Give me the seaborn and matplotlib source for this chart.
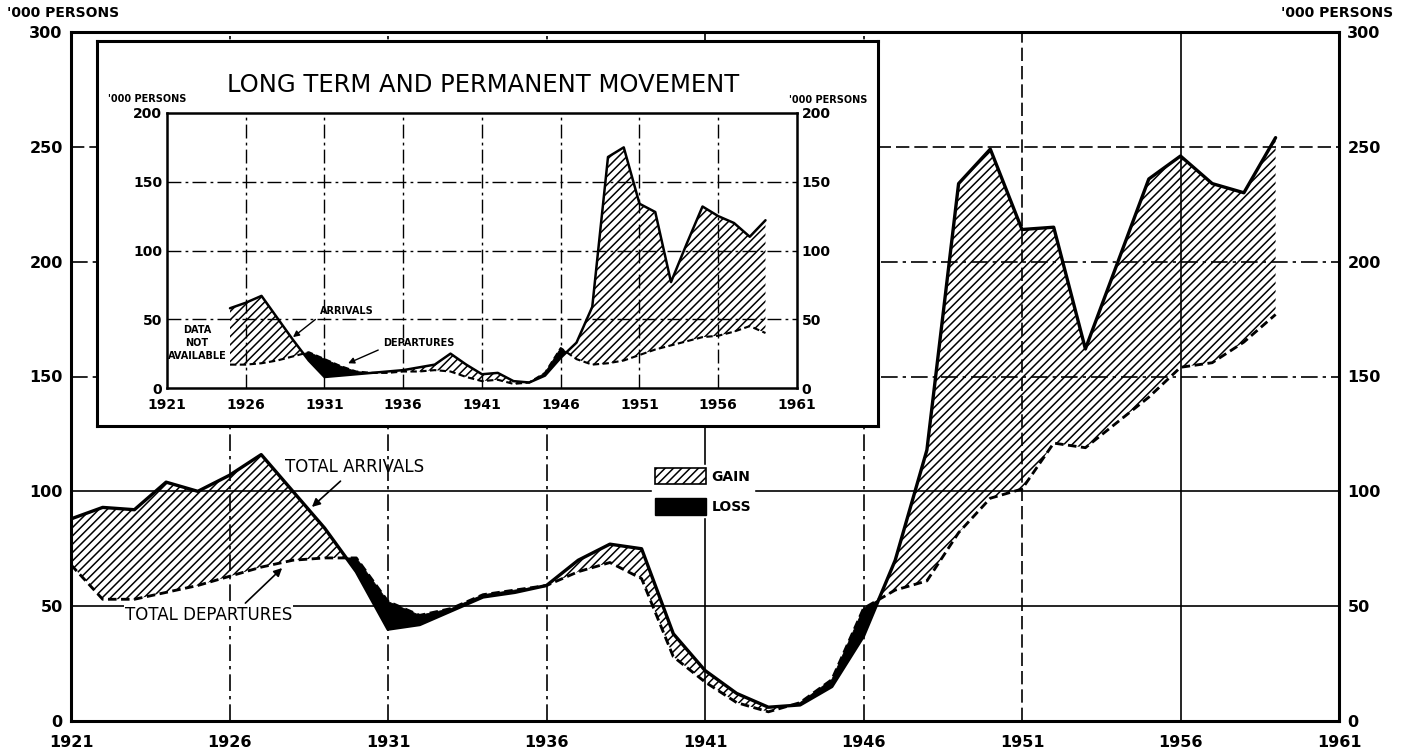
import numpy as np
import matplotlib
matplotlib.use("Agg")
import matplotlib.pyplot as plt
from matplotlib.patches import Patch
import seaborn as sns

# --- data ('000 persons) ---
years = list(range(1921, 1960))
total_arrivals = [88, 93, 92, 104, 100, 107, 116, 100, 84, 65,
                  40, 42, 48, 54, 56, 59, 70, 77, 75, 38,
                  22, 12, 6, 7, 15, 37, 70, 118, 234, 249,
                  214, 215, 162, 199, 236, 246, 234, 230, 254]
total_departures = [68, 53, 53, 56, 59, 63, 67, 70, 71, 71,
                    52, 46, 49, 55, 57, 59, 65, 69, 62, 28,
                    17, 8, 4, 8, 18, 49, 57, 61, 82, 97,
                    101, 121, 119, 130, 141, 154, 156, 165, 177]

lt_years = list(range(1925, 1960))
lt_arrivals = [58, 62, 67, 51, 35, 20, 8, 9, 10, 11,
               12, 13, 15, 17, 25, 17, 10, 11, 5, 4,
               9, 22, 33, 59, 168, 175, 134, 128, 77, 105,
               132, 125, 120, 110, 122]
lt_departures = [17, 17, 18, 20, 23, 26, 21, 16, 12, 11,
                 11, 12, 12, 13, 12, 8, 5, 6, 3, 4,
                 11, 29, 21, 17, 18, 20, 24, 28, 31, 34,
                 37, 38, 41, 45, 40]

year_ticks = [1921, 1926, 1931, 1936, 1941, 1946, 1951, 1956, 1961]
main_yticks = [0, 50, 100, 150, 200, 250, 300]
inset_yticks = [0, 50, 100, 150, 200]

sns.set_theme(style="white")
plt.rcParams['font.family'] = ['DejaVu Sans']
plt.rcParams['text.color'] = 'black'
plt.rcParams['hatch.linewidth'] = 1.1
plt.rcParams['hatch.color'] = 'black'

W, H = 1420, 756
fig = plt.figure(figsize=(W / 100, H / 100), dpi=100)
fig.patch.set_facecolor('white')


def box(l, t, r, b):
    return [l / W, 1 - b / H, (r - l) / W, (b - t) / H]


DASHDOT = (0, (10, 3, 2, 3))
DASHED = (0, (8, 3))
HATCH = '////'


def draw_movement(a, x, arr, dep, lw):
    x = np.asarray(x, float)
    arr = np.asarray(arr, float)
    dep = np.asarray(dep, float)
    a.fill_between(x, dep, arr, where=arr >= dep, interpolate=True,
                   facecolor='none', edgecolor='black', hatch=HATCH, linewidth=0, zorder=1)
    a.fill_between(x, dep, arr, where=arr < dep, interpolate=True,
                   facecolor='black', edgecolor='black', linewidth=0.6, zorder=1)
    sns.lineplot(x=x, y=dep, ax=a, color='black', lw=lw * 0.85,
                 linestyle=(0, (3, 1.6)), zorder=2)
    sns.lineplot(x=x, y=arr, ax=a, color='black', lw=lw, zorder=3)


def style_axes(a, yt, fs, spine_lw, xpad, ypad):
    a.set_xlim(1921, 1961)
    a.set_ylim(yt[0], yt[-1])
    a.set_xticks(year_ticks)
    a.set_yticks(yt)
    a.set(xlabel='', ylabel='')
    a.tick_params(axis='both', length=0, labelsize=fs, labelcolor='black')
    a.tick_params(axis='x', pad=xpad)
    a.tick_params(axis='y', pad=ypad, labelleft=True, labelright=True)
    for t in a.xaxis.get_major_ticks() + a.yaxis.get_major_ticks():
        t.label1.set_fontweight('bold')
        t.label2.set_fontweight('bold')
    for s in a.spines.values():
        s.set_visible(True)
        s.set_color('black')
        s.set_linewidth(spine_lw)


# --- main chart ---
ax = fig.add_axes(box(71, 32, 1339, 721))
ax.set_facecolor('white')
h_styles = {50: '-', 100: '-', 150: DASHDOT, 200: DASHDOT, 250: DASHED}
v_styles = {1926: DASHDOT, 1931: DASHDOT, 1936: DASHDOT, 1941: '-',
            1946: DASHDOT, 1951: DASHED, 1956: '-'}
for v, s in h_styles.items():
    ax.axhline(v, color='black', lw=1.2, ls=s, zorder=0.5)
for v, s in v_styles.items():
    ax.axvline(v, color='black', lw=1.2, ls=s, zorder=0.5)

draw_movement(ax, years, total_arrivals, total_departures, 2.4)
style_axes(ax, main_yticks, 11.5, 2.2, 10, 6)

ax.annotate('TOTAL ARRIVALS', xy=(1928.6, 93.2), xytext=(1927.75, 110.6),
            ha='left', va='center', fontsize=12, color='black',
            arrowprops=dict(arrowstyle='-|>', color='black', lw=1.2,
                            mutation_scale=12, relpos=(0.44, 0.0), shrinkA=2, shrinkB=0))
ax.annotate('TOTAL DEPARTURES', xy=(1927.66, 66.6), xytext=(1922.7, 46),
            ha='left', va='center', fontsize=12, color='black',
            bbox=dict(facecolor='white', edgecolor='none', pad=1),
            arrowprops=dict(arrowstyle='-|>', color='black', lw=1.2,
                            mutation_scale=12, relpos=(0.7, 1.0), shrinkA=2, shrinkB=0))

legend_handles = [Patch(facecolor='white', edgecolor='black', hatch=HATCH, lw=1.2, label='GAIN'),
                  Patch(facecolor='black', edgecolor='black', label='LOSS')]
leg = ax.legend(handles=legend_handles, loc='upper left', bbox_to_anchor=(0.4527, 0.3817),
                frameon=True, framealpha=1, edgecolor='white', fancybox=False,
                prop={'weight': 'bold', 'size': 10}, handlelength=3.7, handleheight=1.45,
                labelspacing=1.0, handletextpad=0.4, borderpad=0.2)
leg.set_zorder(5)

fig.text(7 / W, 1 - 13 / H, "'000 PERSONS", fontsize=10, fontweight='bold', va='center', ha='left')
fig.text(1393 / W, 1 - 13 / H, "'000 PERSONS", fontsize=10, fontweight='bold', va='center', ha='right')

# --- inset: long term and permanent movement ---
frame = fig.add_axes(box(97, 41, 878, 426))
frame.set_facecolor('white')
frame.set_xticks([])
frame.set_yticks([])
for s in frame.spines.values():
    s.set_visible(True)
    s.set_color('black')
    s.set_linewidth(2.2)
frame.set_zorder(2)

ins = fig.add_axes(box(167, 113, 797, 388))
ins.set_facecolor('white')
ins.set_zorder(3)
for v in inset_yticks[1:-1]:
    ins.axhline(v, color='black', lw=1.0, ls=DASHDOT, zorder=0.5)
for v in year_ticks[1:-1]:
    ins.axvline(v, color='black', lw=1.0, ls=DASHDOT, zorder=0.5)

draw_movement(ins, lt_years, lt_arrivals, lt_departures, 1.8)
style_axes(ins, inset_yticks, 10, 1.8, 7, 3.5)

ins.text(1922.9, 32.7, 'DATA\nNOT\nAVAILABLE', ha='center', va='center', fontsize=7,
         fontweight='bold', linespacing=1.35)
ins.annotate('ARRIVALS', xy=(1929.0, 37), xytext=(1930.7, 56), ha='left', va='center',
             fontsize=7, fontweight='bold',
             arrowprops=dict(arrowstyle='-|>', color='black', lw=1.0, mutation_scale=9,
                             relpos=(0.0, 0.0), shrinkA=1, shrinkB=0))
ins.annotate('DEPARTURES', xy=(1932.5, 18), xytext=(1934.7, 32.7), ha='left', va='center',
             fontsize=7, fontweight='bold',
             arrowprops=dict(arrowstyle='-|>', color='black', lw=1.0, mutation_scale=9,
                             relpos=(0.0, 0.0), shrinkA=1, shrinkB=0))

fig.text(483 / W, 1 - 85 / H, 'LONG TERM AND PERMANENT MOVEMENT', fontsize=17.5,
         ha='center', va='center', zorder=10)
fig.text(108 / W, 1 - 99 / H, "'000 PERSONS", fontsize=7, fontweight='bold',
         ha='left', va='center', zorder=10)
fig.text(867 / W, 1 - 100 / H, "'000 PERSONS", fontsize=7, fontweight='bold',
         ha='right', va='center', zorder=10)

fig.savefig('out.png', dpi=100)
